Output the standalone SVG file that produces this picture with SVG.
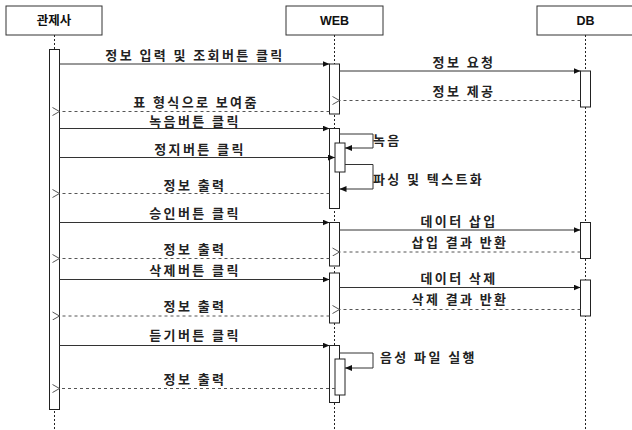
<svg xmlns="http://www.w3.org/2000/svg" width="632" height="430" viewBox="0 0 632 430">
<style>
.box{fill:#fff;stroke:#333;stroke-width:1}
.life{stroke:#222;stroke-width:1;stroke-dasharray:2,2;fill:none}
.act{fill:#fff;stroke:#222;stroke-width:1}
.msg{stroke:#333;stroke-width:1;fill:none;marker-end:url(#fa)}
.ret{stroke:#555;stroke-width:1;stroke-dasharray:3,3;fill:none;marker-end:url(#oa)}
.hd{font-family:"Liberation Sans","Noto Sans CJK KR",sans-serif;font-size:12.5px;font-weight:bold;fill:#111;text-anchor:middle}
.lb{font-family:"Noto Sans CJK KR",sans-serif;font-size:13px;font-weight:bold;fill:#222;text-anchor:middle;letter-spacing:2.4px}
.ll{text-anchor:start}
</style>
<defs>
<marker id="fa" markerWidth="8" markerHeight="8" refX="7" refY="3" orient="auto" markerUnits="userSpaceOnUse"><path d="M0,0 L7,3 L0,6 Z" fill="#111"/></marker>
<marker id="oa" markerWidth="10" markerHeight="10" refX="1" refY="4" orient="auto" markerUnits="userSpaceOnUse"><path d="M8,0 L1,4 L8,8" fill="none" stroke="#555" stroke-width="1"/></marker>
</defs>
<rect width="632" height="430" fill="#fff"/>
<g id="controller">
<rect class="box" x="6" y="6" width="96" height="29"/>
<text class="hd" x="54" y="25">관제사</text>
<line class="life" x1="54.5" y1="35" x2="54.5" y2="430"/>
<rect class="act" x="49.5" y="49.5" width="10" height="360"/>
</g>
<g id="web">
<rect class="box" x="286" y="6" width="97" height="29"/>
<text class="hd" x="334.5" y="25">WEB</text>
<line class="life" x1="334.5" y1="35" x2="334.5" y2="430"/>
<rect class="act" x="329.5" y="64" width="10" height="50"/>
<rect class="act" x="329.5" y="128.5" width="10" height="80"/>
<rect class="act" x="335" y="143" width="10" height="29"/>
<rect class="act" x="329.5" y="222.5" width="10" height="43.5"/>
<rect class="act" x="329.5" y="273" width="10" height="50"/>
<rect class="act" x="329.5" y="345.5" width="10" height="57"/>
<rect class="act" x="335" y="359" width="10" height="36"/>
</g>
<g id="db">
<rect class="box" x="537" y="6" width="97" height="29"/>
<text class="hd" x="585.5" y="25">DB</text>
<line class="life" x1="585.5" y1="35" x2="585.5" y2="430"/>
<rect class="act" x="580.5" y="71" width="10" height="36"/>
<rect class="act" x="580.5" y="222.5" width="10" height="36"/>
<rect class="act" x="580.5" y="280" width="10" height="36"/>
</g>
<g id="connectors">
<line class="msg" x1="59.5" y1="64" x2="329.5" y2="64"/>
<line class="msg" x1="339.5" y1="71" x2="580.5" y2="71"/>
<line class="ret" x1="580.5" y1="100.5" x2="339.5" y2="100.5"/>
<line class="ret" x1="329.5" y1="111.5" x2="59.5" y2="111.5"/>
<line class="msg" x1="59.5" y1="128.5" x2="329.5" y2="128.5"/>
<polyline class="msg" points="339.5,134 373,134 373,148 345,148"/>
<line class="msg" x1="59.5" y1="157.5" x2="335" y2="157.5"/>
<polyline class="msg" points="345,164.5 373,164.5 373,189 339.5,189"/>
<line class="ret" x1="329.5" y1="193.5" x2="59.5" y2="193.5"/>
<line class="msg" x1="59.5" y1="222.5" x2="329.5" y2="222.5"/>
<line class="msg" x1="339.5" y1="230" x2="580.5" y2="230"/>
<line class="ret" x1="580.5" y1="252" x2="339.5" y2="252"/>
<line class="ret" x1="329.5" y1="258.5" x2="59.5" y2="258.5"/>
<line class="msg" x1="59.5" y1="279.5" x2="329.5" y2="279.5"/>
<line class="msg" x1="339.5" y1="287.5" x2="580.5" y2="287.5"/>
<line class="ret" x1="580.5" y1="309.5" x2="339.5" y2="309.5"/>
<line class="ret" x1="329.5" y1="316" x2="59.5" y2="316"/>
<line class="msg" x1="59.5" y1="345.5" x2="329.5" y2="345.5"/>
<polyline class="msg" points="339.5,353 373,353 373,368 345,368"/>
<line class="ret" x1="335" y1="388.5" x2="59.5" y2="388.5"/>
</g>
<g id="labels">
<text class="lb" x="195" y="59.5">정보 입력 및 조회버튼 클릭</text>
<text class="lb" x="464" y="67">정보 요청</text>
<text class="lb" x="464" y="95.5">정보 제공</text>
<text class="lb" x="196" y="106.5">표 형식으로 보여줌</text>
<text class="lb" x="195" y="125.5">녹음버튼 클릭</text>
<text class="lb ll" x="373" y="145">녹음</text>
<text class="lb" x="200" y="154">정지버튼 클릭</text>
<text class="lb ll" x="373" y="184">파싱 및 텍스트화</text>
<text class="lb" x="195" y="190">정보 출력</text>
<text class="lb" x="195" y="218">승인버튼 클릭</text>
<text class="lb" x="459" y="226">데이터 삽입</text>
<text class="lb" x="460" y="247">삽입 결과 반환</text>
<text class="lb" x="195" y="254">정보 출력</text>
<text class="lb" x="195" y="275">삭제버튼 클릭</text>
<text class="lb" x="459" y="283">데이터 삭제</text>
<text class="lb" x="460" y="304">삭제 결과 반환</text>
<text class="lb" x="195" y="311">정보 출력</text>
<text class="lb" x="195" y="340">듣기버튼 클릭</text>
<text class="lb ll" x="380" y="362">음성 파일 실행</text>
<text class="lb" x="195" y="384">정보 출력</text>
</g>
</svg>
